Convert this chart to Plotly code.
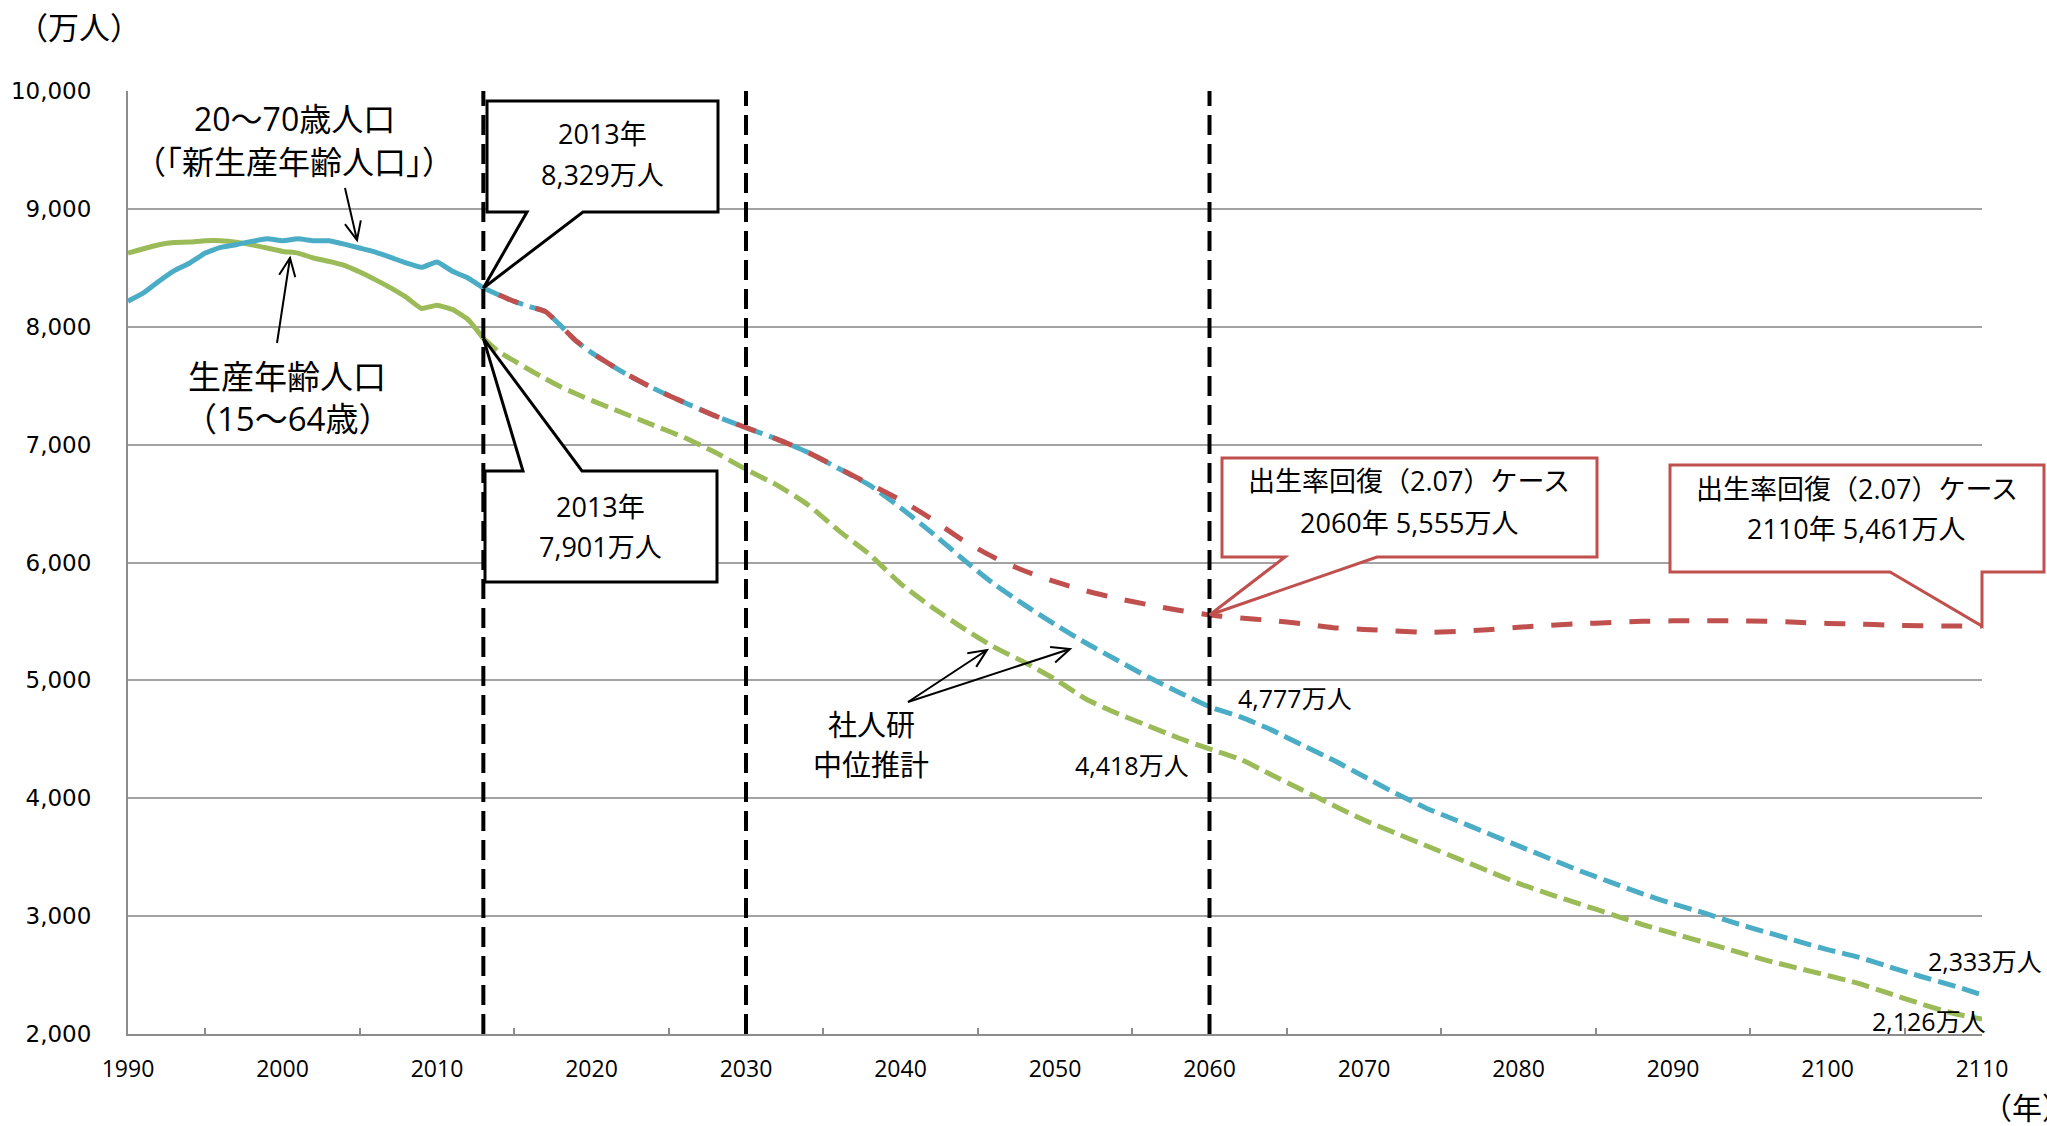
import math
import plotly.graph_objects as go

# ---------------- data (万人) ----------------
hist_years = list(range(1990, 2014))
# 20〜70歳人口（「新生産年齢人口」）実績
pop_20_70_hist = [8217, 8287, 8386, 8476, 8541, 8625, 8673, 8696, 8724, 8746,
                  8730, 8746, 8730, 8730, 8701, 8668, 8634, 8589, 8541, 8504,
                  8549, 8470, 8414, 8329]
# 生産年齢人口（15〜64歳）実績
pop_15_64_hist = [8625, 8662, 8696, 8715, 8718, 8730, 8730, 8718, 8696, 8668,
                  8639, 8625, 8583, 8555, 8521, 8465, 8400, 8330, 8251, 8155,
                  8183, 8146, 8062, 7901]

proj_years = [2013, 2014, 2015, 2016, 2017, 2018, 2019, 2020] + list(range(2022, 2111, 2))
# 社人研中位推計
pop_20_70_proj = [8329, 8270, 8215, 8170, 8130, 8010, 7880, 7780,
                  7617, 7478, 7358, 7244, 7144, 7047, 6935, 6797, 6656, 6465,
                  6256, 6033, 5822, 5642, 5474, 5317, 5173, 5030, 4900, 4777,
                  4690, 4580, 4451, 4324, 4184, 4045, 3918, 3811, 3703, 3596,
                  3489, 3383, 3287, 3190, 3104, 3027, 2942, 2865, 2790, 2716,
                  2652, 2570, 2490, 2415, 2333]
pop_15_64_proj = [7901, 7788, 7710, 7633, 7560, 7490, 7432, 7375,
                  7270, 7165, 7060, 6935, 6790, 6657, 6490, 6270, 6068, 5821,
                  5624, 5448, 5287, 5155, 5010, 4842, 4721, 4616, 4511, 4418,
                  4330, 4199, 4070, 3941, 3815, 3706, 3599, 3492, 3385, 3278,
                  3187, 3101, 3016, 2929, 2853, 2778, 2703, 2627, 2561, 2497,
                  2429, 2344, 2258, 2180, 2126]

# 出生率回復（2.07）ケース（20〜70歳人口）
recovery_years = [2014, 2015, 2016, 2017, 2018, 2019, 2020] + list(range(2022, 2111, 2))
pop_20_70_recovery = [8270, 8215, 8170, 8130, 8010, 7880, 7780,
                      7617, 7478, 7358, 7244, 7144, 7047, 6935, 6800, 6665, 6530,
                      6370, 6192, 6046, 5930, 5837, 5760, 5696, 5643, 5595, 5555,
                      5530, 5508, 5480, 5447, 5432, 5420, 5408, 5415, 5430, 5450,
                      5467, 5481, 5490, 5501, 5505, 5505, 5505, 5502, 5493, 5483,
                      5478, 5468, 5463, 5462, 5461]

x_tick_years = list(range(1990, 2111, 10))
y_tick_values = list(range(2000, 10001, 1000))
marker_years = [2013, 2030, 2060]

# ---------------- styling ----------------
BLUE = "#4BACC6"
GREEN = "#9BBB59"
RED = "#C0504D"
GRID = "#A3A3A3"
AXIS = "#8C8C8C"
NUM_FONT = "Open Sans, Noto Sans CJK JP, sans-serif"
JP_FONT = "Noto Sans CJK JP, sans-serif"
YTICK_FONT = "DejaVu Sans, sans-serif"
DASH = "18px,7px"        # 社人研推計
LONG_DASH = "21px,18px"  # 出生率回復ケース
LW = 5

# plot area in page pixels
L, T, W, H = 128, 91, 1854, 943
X0, X1, Y0, Y1 = 1990, 2110, 2000, 10000


def pap(X, Y):
    """page pixel -> paper fraction"""
    return (X - L) / W, (T + H - Y) / H


def data_px(year, v):
    """data value -> page pixel, via the axis ranges"""
    return L + (year - X0) / (X1 - X0) * W, T + (Y1 - v) / (Y1 - Y0) * H


def value_at(years, values, year):
    return values[years.index(year)]


fig = go.Figure()

fig.add_trace(go.Scatter(x=hist_years, y=pop_15_64_hist, mode="lines",
                         line=dict(color=GREEN, width=LW, shape="spline", smoothing=0.4)))
fig.add_trace(go.Scatter(x=hist_years, y=pop_20_70_hist, mode="lines",
                         line=dict(color=BLUE, width=LW, shape="spline", smoothing=0.4)))
fig.add_trace(go.Scatter(x=proj_years, y=pop_15_64_proj, mode="lines",
                         line=dict(color=GREEN, width=LW, dash=DASH, shape="spline", smoothing=0.6)))
fig.add_trace(go.Scatter(x=proj_years, y=pop_20_70_proj, mode="lines",
                         line=dict(color=BLUE, width=LW, dash=DASH, shape="spline", smoothing=0.6)))
fig.add_trace(go.Scatter(x=recovery_years, y=pop_20_70_recovery, mode="lines",
                         line=dict(color=RED, width=LW, dash=LONG_DASH, shape="spline", smoothing=0.6)))

shapes = []
# vertical reference lines
for yr in marker_years:
    shapes.append(dict(type="line", xref="x", yref="paper", x0=yr, x1=yr, y0=0, y1=1,
                       line=dict(color="black", width=4, dash="20px,9px"), layer="above"))


def callout(box, base, tip, color, side):
    x0, y0, x1, y1 = box
    b0, b1 = base
    if side == "bottom":
        pts = [(x0, y0), (x1, y0), (x1, y1), (b1, y1), tip, (b0, y1), (x0, y1)]
    else:
        pts = [(x0, y0), (b0, y0), tip, (b1, y0), (x1, y0), (x1, y1), (x0, y1)]
    path = "M " + " L ".join("%.5f,%.5f" % pap(*p) for p in pts) + " Z"
    return dict(type="path", xref="paper", yref="paper", path=path,
                line=dict(color=color, width=3), fillcolor="white", layer="above")


def arrow(start, end, head=20, ang=24):
    sx, sy = start
    ex, ey = end
    a = math.atan2(ey - sy, ex - sx)
    h1 = (ex - head * math.cos(a - math.radians(ang)), ey - head * math.sin(a - math.radians(ang)))
    h2 = (ex - head * math.cos(a + math.radians(ang)), ey - head * math.sin(a + math.radians(ang)))
    f = lambda p: "%.5f,%.5f" % pap(*p)
    path = f"M {f(start)} L {f(end)} M {f(h1)} L {f(end)} L {f(h2)}"
    return dict(type="path", xref="paper", yref="paper", path=path,
                line=dict(color="black", width=2), layer="above")


v2013_new = pop_20_70_hist[-1]
v2013_old = pop_15_64_hist[-1]
v2060_rec = value_at(recovery_years, pop_20_70_recovery, 2060)
v2110_rec = value_at(recovery_years, pop_20_70_recovery, 2110)
v2060_new = value_at(proj_years, pop_20_70_proj, 2060)
v2060_old = value_at(proj_years, pop_15_64_proj, 2060)
v2110_new = value_at(proj_years, pop_20_70_proj, 2110)
v2110_old = value_at(proj_years, pop_15_64_proj, 2110)

shapes.append(callout((487, 101, 718, 212), (527, 583), data_px(2013, v2013_new), "black", "bottom"))
shapes.append(callout((485, 471, 717, 582), (523, 582), data_px(2013, v2013_old), "black", "top"))
shapes.append(callout((1222, 458, 1597, 557), (1285, 1377), data_px(2060, v2060_rec), RED, "bottom"))
tip4 = data_px(2110, v2110_rec)
shapes.append(callout((1670, 465, 2044, 572), (1890, tip4[0]), tip4, RED, "bottom"))

shapes.append(arrow((345, 188), (357, 240)))
shapes.append(arrow((277, 343), (290, 258)))
shapes.append(arrow((908, 702), (987, 650)))
shapes.append(arrow((908, 702), (1070, 649)))

annotations = []


def label(text, X, Y, size, family=NUM_FONT, xanchor="center"):
    px, py = pap(X, Y)
    annotations.append(dict(text=text, x=px, y=py, xref="paper", yref="paper",
                            xanchor=xanchor, yanchor="middle", showarrow=False,
                            font=dict(family=family, size=size, color="black")))


def man(v):
    return f"{v:,}万人"


label("（万人）", 79, 26, 31, JP_FONT)
label("（年）", 2027, 1106, 30, JP_FONT)

label("20〜70歳人口", 294, 118, 32)
label("（「新生産年齢人口」）", 294, 162, 32)
label("生産年齢人口", 287, 376, 33)
label("（15〜64歳）", 287, 418, 33)
label("社人研", 871, 724, 29)
label("中位推計", 871, 764, 29)

label("2013年", 602, 133, 27)
label(man(v2013_new), 602, 175, 27)
label("2013年", 600, 507, 27)
label(man(v2013_old), 600, 546, 27)
label("出生率回復（2.07）ケース", 1409, 480, 27)
label(f"2060年 {man(v2060_rec)}", 1409, 522, 27)
label("出生率回復（2.07）ケース", 1857, 488, 27)
label(f"2110年 {man(v2110_rec)}", 1856, 528, 27)

label(man(v2060_old), 1132, 765, 25)
label(man(v2060_new), 1295, 698, 25)
label(man(v2110_new), 1985, 961, 25)
label(man(v2110_old), 1929, 1021, 25)

fig.update_layout(
    width=2047, height=1126,
    margin=dict(l=L, r=2047 - L - W, t=T, b=1126 - T - H, autoexpand=False),
    paper_bgcolor="white", plot_bgcolor="white",
    showlegend=False,
    shapes=shapes,
    annotations=annotations,
    xaxis=dict(range=[X0, X1], tickvals=x_tick_years, ticks="", showgrid=False,
               zeroline=False, showline=True, linecolor=AXIS, linewidth=2,
               tickfont=dict(family=NUM_FONT, size=23, color="black"),
               ticklabelstandoff=13,
               minor=dict(tick0=1995, dtick=10, ticks="inside", ticklen=6,
                          tickcolor=AXIS, tickwidth=1.5, showgrid=False)),
    yaxis=dict(range=[Y0, Y1], tickvals=y_tick_values, tickformat=",", ticks="",
               showgrid=True, gridcolor=GRID, gridwidth=2, zeroline=False,
               showline=True, linecolor=AXIS, linewidth=2,
               tickfont=dict(family=YTICK_FONT, size=23, color="black"),
               ticklabelstandoff=30),
)

fig.write_html("out.html")
